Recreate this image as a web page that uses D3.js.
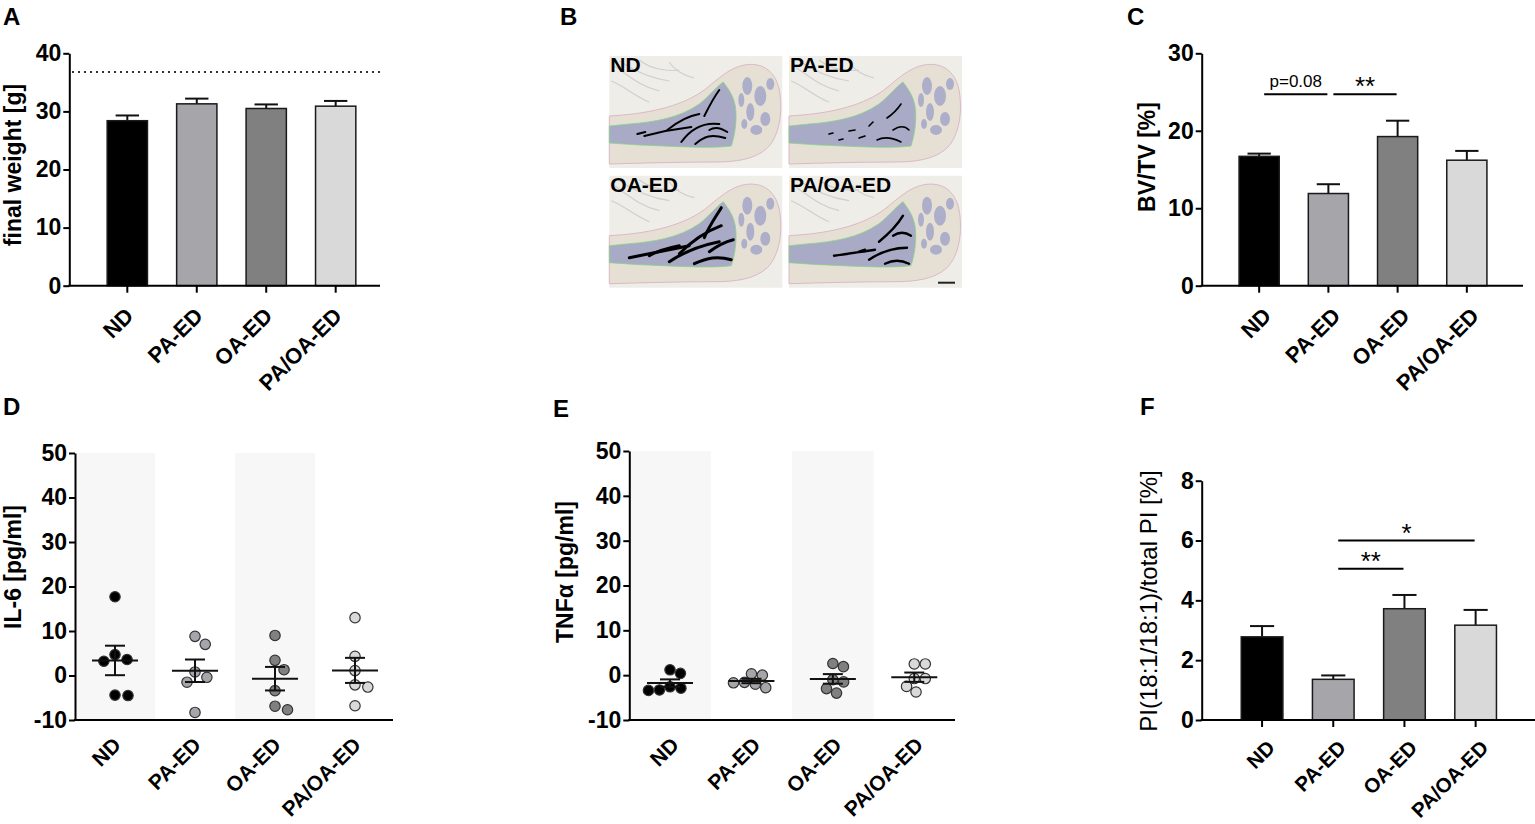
<!DOCTYPE html>
<html>
<head>
<meta charset="utf-8">
<script src="https://cdn.jsdelivr.net/npm/d3@7"></script>
<style>
  body { margin: 0; background: #fff; }
  svg text { font-family: "Liberation Sans", Arial, Helvetica, sans-serif; fill: #000; }
</style>
</head>
<body>
<div id="fig"></div>
<script>
// Groups shared by every panel
const groups = ["ND", "PA-ED", "OA-ED", "PA/OA-ED"];
const groupFill = ["#000000", "#a5a5aa", "#808080", "#d9d9d9"];

// A: final body weight (mean, SEM) and reference (dotted line)
const weightMean = [28.4, 31.3, 30.5, 30.9];
const weightSem = [0.9, 0.9, 0.7, 0.9];
const weightRef = 36.8;
const weightTicks = [0, 10, 20, 30, 40];

// C: BV/TV
const bvtvMean = [16.7, 11.9, 19.25, 16.2];
const bvtvSem = [0.35, 1.2, 2.05, 1.2];
const bvtvTicks = [0, 10, 20, 30];
const bvtvSig = [
  { from: "ND", to: "PA-ED", value: 24.7, text: "p=0.08" },
  { from: "PA-ED", to: "OA-ED", value: 24.7, text: "**" }
];

// F: PI(18:1/18:1) share
const piMean = [2.78, 1.36, 3.72, 3.17];
const piSem = [0.36, 0.13, 0.46, 0.51];
const piTicks = [0, 2, 4, 6, 8];
const piSig = [
  { from: "PA-ED", to: "OA-ED", value: 5.06, text: "**" },
  { from: "PA-ED", to: "PA/OA-ED", value: 6.0, text: "*" }
];

// D: IL-6 per animal
const il6 = [
  [17.7, 3.6, 3.2, 4.7, -4.5, -4.4],
  [7.0, 8.8, -0.4, -1.5, 0.8, -8.3],
  [9.0, 3.4, 1.3, -3.4, -7.7, -6.9],
  [13.0, 4.3, 1.1, -2.1, -2.6, -6.8]
];
// E: TNFa per animal
const tnf = [
  [1.2, 0.4, -2.6, -3.3, -3.4, -2.9],
  [0.0, 0.3, -1.6, -2.8, -2.0, -1.7],
  [2.6, 1.9, -1.5, -1.0, -4.0, -3.0],
  [2.5, 2.5, -0.75, -0.75, -3.75, -2.5]
];
const cytoTicks = [-10, 0, 10, 20, 30, 40, 50];

const svg = d3.create("svg").attr("width", 1535).attr("height", 824);

function panelLetter(t, x, y) {
  svg.append("text").attr("x", x).attr("y", y)
    .attr("font-size", 24).attr("font-weight", "bold").text(t);
}

function axes(p, x, y) {
  // y axis
  svg.append("g")
    .attr("transform", `translate(${p.axisX},0)`)
    .call(d3.axisLeft(y).tickValues(p.ticks).tickSize(6).tickPadding(2)
      .tickSizeOuter(0).tickFormat(d => String(d)))
    .call(g => {
      g.attr("font-size", 23).attr("font-family", null);
      g.select(".domain").attr("stroke", "#000").attr("stroke-width", 2);
      g.selectAll(".tick line").attr("stroke", "#000").attr("stroke-width", 2);
      g.selectAll(".tick text").attr("font-size", 23).attr("font-weight", "bold");
    });

  // x axis
  const y0 = y(p.domain[0]);
  if (p.xTicks) {
    svg.append("g")
      .attr("transform", `translate(0,${y0})`)
      .call(d3.axisBottom(x).tickSize(7).tickFormat(""))
      .call(g => {
        g.select(".domain").remove();
        g.selectAll(".tick line").attr("stroke", "#000").attr("stroke-width", 2);
      });
  }
  svg.append("line")
    .attr("x1", p.axisX - 1).attr("x2", p.axisEnd)
    .attr("y1", y0).attr("y2", y0)
    .attr("stroke", "#000").attr("stroke-width", 2);

  // rotated category labels
  svg.append("g").selectAll("text")
    .data(groups)
    .join("text")
    .attr("transform", d => `translate(${x(d) + x.bandwidth() / 2 + p.catDx},${y0 + p.catDy}) rotate(-45)`)
    .attr("text-anchor", "end")
    .attr("dy", "0.35em")
    .attr("font-size", p.catSize || 22)
    .attr("font-weight", "bold")
    .text(d => d);

  // y label
  svg.append("text")
    .attr("transform", `translate(${p.labelX},${p.labelY}) rotate(-90)`)
    .attr("text-anchor", "middle")
    .attr("font-size", p.labelSize || 23)
    .attr("font-weight", p.labelWeight || "bold")
    .text(p.label);
}

function barPanel(p, means, sems, sig) {
  const x = d3.scaleBand().domain(groups).range(p.xRange).padding(p.pad);
  const y = d3.scaleLinear().domain(p.domain).range(p.yRange);
  const cx = d => x(d) + x.bandwidth() / 2;
  const capW = x.bandwidth() * 0.58;

  const bars = groups.map((g, i) => ({ g, m: means[i], s: sems[i], fill: groupFill[i] }));

  svg.append("g").selectAll("line")
    .data(bars)
    .join("line")
    .attr("x1", d => cx(d.g)).attr("x2", d => cx(d.g))
    .attr("y1", d => y(d.m)).attr("y2", d => y(d.m + d.s))
    .attr("stroke", "#111").attr("stroke-width", 2);
  svg.append("g").selectAll("line")
    .data(bars)
    .join("line")
    .attr("x1", d => cx(d.g) - capW / 2).attr("x2", d => cx(d.g) + capW / 2)
    .attr("y1", d => y(d.m + d.s)).attr("y2", d => y(d.m + d.s))
    .attr("stroke", "#111").attr("stroke-width", 2);

  svg.append("g").selectAll("rect")
    .data(bars)
    .join("rect")
    .attr("x", d => x(d.g))
    .attr("y", d => y(d.m))
    .attr("width", x.bandwidth())
    .attr("height", d => y(0) - y(d.m))
    .attr("fill", d => d.fill)
    .attr("stroke", "#1a1a1a")
    .attr("stroke-width", 1.5);

  if (sig) {
    const sg = svg.append("g");
    sg.selectAll("line")
      .data(sig)
      .join("line")
      .attr("x1", d => cx(d.from) + 5).attr("x2", d => cx(d.to) - 1)
      .attr("y1", d => y(d.value)).attr("y2", d => y(d.value))
      .attr("stroke", "#000").attr("stroke-width", 2);
    sg.selectAll("text")
      .data(sig)
      .join("text")
      .attr("x", d => (cx(d.from) + cx(d.to)) / 2 + 2)
      .attr("y", d => d.text.startsWith("*") ? y(d.value) + 1 : y(d.value) - 7.5)
      .attr("text-anchor", "middle")
      .attr("font-size", d => d.text.startsWith("*") ? 26 : 17)
      .text(d => d.text);
  }

  axes(p, x, y);
  return { x, y };
}

// simple beeswarm: each point goes to the smallest horizontal offset that does not collide
function swarm(values, y, dist) {
  const order = values.map((v, i) => ({ v, i, py: y(v) })).sort((a, b) => b.v - a.v);
  const placed = [];
  const out = new Array(values.length);
  for (const p of order) {
    const cands = [0];
    for (const q of placed) {
      const dy = Math.abs(p.py - q.py);
      if (dy < dist) {
        const dx = Math.sqrt(dist * dist - dy * dy) + 0.01;
        cands.push(q.dx + dx, q.dx - dx);
      }
    }
    cands.sort((a, b) => Math.abs(a) - Math.abs(b));
    p.dx = cands.find(c => placed.every(q => (c - q.dx) ** 2 + (p.py - q.py) ** 2 >= dist * dist - 0.05));
    placed.push(p);
    out[p.i] = p.dx;
  }
  return out;
}

function dotPanel(p, data) {
  const x = d3.scaleBand().domain(groups).range(p.xRange);
  const y = d3.scaleLinear().domain(p.domain).range(p.yRange);
  const cx = d => x(d) + x.bandwidth() / 2;

  // alternating shaded columns
  svg.append("g").selectAll("rect")
    .data(groups.filter((g, i) => i % 2 === 0))
    .join("rect")
    .attr("x", d => x(d))
    .attr("y", y(p.domain[1]))
    .attr("width", x.bandwidth())
    .attr("height", y(p.domain[0]) - y(p.domain[1]))
    .attr("fill", "#f7f7f7");

  const pts = [];
  const stats = [];
  data.forEach((vals, gi) => {
    const offs = swarm(vals, y, p.swarmDist);
    vals.forEach((v, j) => pts.push({ g: groups[gi], v, dx: offs[j], fill: groupFill[gi] }));
    const m = d3.mean(vals);
    const s = d3.deviation(vals) / Math.sqrt(vals.length);
    stats.push({ g: groups[gi], m, s });
  });

  svg.append("g").selectAll("circle")
    .data(pts)
    .join("circle")
    .attr("cx", d => cx(d.g) + d.dx)
    .attr("cy", d => y(d.v))
    .attr("r", 5.2)
    .attr("fill", d => d.fill)
    .attr("stroke", "#333")
    .attr("stroke-width", 1.2);

  const st = svg.append("g").attr("stroke", "#111").attr("stroke-width", 2);
  st.selectAll(".mean")
    .data(stats)
    .join("line")
    .attr("class", "mean")
    .attr("x1", d => cx(d.g) - 23).attr("x2", d => cx(d.g) + 23)
    .attr("y1", d => y(d.m)).attr("y2", d => y(d.m));
  st.selectAll(".sem")
    .data(stats)
    .join("line")
    .attr("class", "sem")
    .attr("x1", d => cx(d.g)).attr("x2", d => cx(d.g))
    .attr("y1", d => y(d.m - d.s)).attr("y2", d => y(d.m + d.s));
  st.selectAll(".cap")
    .data(stats.flatMap(d => [{ g: d.g, v: d.m + d.s }, { g: d.g, v: d.m - d.s }]))
    .join("line")
    .attr("class", "cap")
    .attr("x1", d => cx(d.g) - 10).attr("x2", d => cx(d.g) + 10)
    .attr("y1", d => y(d.v)).attr("y2", d => y(d.v));

  axes(p, x, y);
}

// ---- Panel A
panelLetter("A", 3, 25);
const a = barPanel({
  xRange: [78, 385], pad: 0.42, domain: [0, 40], yRange: [285.7, 53.3], ticks: weightTicks,
  axisX: 69.3, axisEnd: 380, xTicks: true, catDx: 2, catDy: 26,
  label: "final weight [g]", labelX: 21, labelY: 165
}, weightMean, weightSem);
svg.append("line")
  .attr("x1", 72).attr("x2", 380)
  .attr("y1", a.y(weightRef)).attr("y2", a.y(weightRef))
  .attr("stroke", "#333").attr("stroke-width", 2).attr("stroke-dasharray", "2,4");

// ---- Panel C
panelLetter("C", 1127, 25);
barPanel({
  xRange: [1210, 1516], pad: 0.42, domain: [0, 30], yRange: [285.7, 53.3], ticks: bvtvTicks,
  axisX: 1201.7, axisEnd: 1523, xTicks: true, catDx: 8, catDy: 26,
  label: "BV/TV [%]", labelX: 1155, labelY: 157
}, bvtvMean, bvtvSem, bvtvSig);

// ---- Panel F
panelLetter("F", 1140, 415);
barPanel({
  xRange: [1211.7, 1526], pad: 0.415, domain: [0, 8], yRange: [720, 480.7], ticks: piTicks,
  axisX: 1201.7, axisEnd: 1535, xTicks: true, catDx: 9, catDy: 24, catSize: 20.5,
  label: "PI(18:1/18:1)/total PI [%]", labelX: 1157, labelY: 601, labelSize: 24, labelWeight: "normal"
}, piMean, piSem, piSig);

// ---- Panel D
panelLetter("D", 3, 415);
dotPanel({
  xRange: [75, 395], domain: [-10, 50], yRange: [720, 453], ticks: cytoTicks,
  axisX: 75, axisEnd: 393, xTicks: false, catDx: 2, catDy: 21, catSize: 21, swarmDist: 13,
  label: "IL-6 [pg/ml]", labelX: 21, labelY: 567
}, il6);

// ---- Panel E
panelLetter("E", 553, 417);
dotPanel({
  xRange: [629.3, 955], domain: [-10, 50], yRange: [720, 451], ticks: cytoTicks,
  axisX: 629.3, axisEnd: 955, xTicks: false, catDx: 5, catDy: 21, catSize: 21, swarmDist: 11,
  label: "TNFα [pg/ml]", labelX: 573, labelY: 572
}, tnf);

// ---- Panel B: schematic of the four histology sections
panelLetter("B", 560, 25);
const tileW = 173, tileH = 112;
const tileX = [609.3, 789], tileY = [56, 175.7];
const bonePath = "M0,60 C35,58 70,52 95,34 C110,22 120,12 135,9 C152,6 166,14 170,34 C174,56 170,80 158,92 C145,104 125,106 105,106 C70,106 35,107 0,108 Z";
const trabPath = "M0,70 L20,68 C45,66 70,62 90,48 C100,40 108,30 114,26 C120,34 124,40 126,50 C128,62 126,78 122,90 C100,93 60,90 30,89 L0,87 Z";
const blobs = [[138, 30, 5, 9], [151, 40, 6, 10], [141, 56, 4, 9], [156, 63, 5, 7], [147, 74, 6, 5], [132, 44, 3, 7], [161, 28, 4, 6], [135, 68, 3, 5]];
const muscle = ["M5,10 C20,20 30,30 50,35", "M10,5 C25,15 40,22 60,25", "M2,25 C15,30 25,40 40,46", "M30,4 C40,12 55,16 70,14", "M60,6 C65,14 75,20 85,22"];
const cracks = [
  { w: 2, d: ["M35,80 C50,76 65,73 82,71", "M72,86 C82,72 94,66 110,68", "M58,74 C68,66 78,60 90,58", "M95,60 C100,50 104,42 110,34", "M86,88 C95,80 102,78 116,82", "M28,78 L36,76", "M100,74 C106,70 112,72 118,76"] },
  { w: 1.6, d: ["M40,78 L44,77", "M60,75 L66,74", "M80,70 L84,66", "M98,62 C104,58 108,54 112,48", "M88,84 C96,80 104,82 112,86", "M104,74 C110,70 116,70 120,74", "M70,82 L76,80", "M50,84 L54,83"] },
  { w: 3, d: ["M20,82 C40,78 60,74 80,70", "M60,86 C75,76 90,70 110,66", "M70,78 C82,66 96,56 112,50", "M95,62 C100,50 106,42 112,32", "M85,88 C98,82 108,80 122,84", "M40,80 C50,74 60,72 70,70", "M100,76 C108,70 116,66 124,64"] },
  { w: 2.4, d: ["M45,80 C60,78 72,76 86,74", "M80,84 C92,76 104,72 118,72", "M90,66 C100,58 108,50 114,40", "M96,88 C104,84 112,84 120,88", "M70,76 L76,74", "M104,60 C110,56 116,56 122,60"] }
];

groups.forEach((g, i) => {
  const tx = tileX[i % 2], ty = tileY[Math.floor(i / 2)];
  const t = svg.append("g").attr("transform", `translate(${tx},${ty})`);
  t.append("rect").attr("width", tileW).attr("height", tileH).attr("fill", "#eeede8");
  t.append("g").selectAll("path").data(muscle).join("path")
    .attr("d", d => d).attr("fill", "none").attr("stroke", "#cfcfd2").attr("stroke-width", 1.2);
  t.append("path").attr("d", bonePath).attr("fill", "#e6e0d4").attr("stroke", "#dcb8c6").attr("stroke-width", 1);
  t.append("path").attr("d", trabPath).attr("fill", "#a8aac6").attr("stroke", "#86d686").attr("stroke-width", 0.8);
  t.append("g").selectAll("ellipse").data(blobs).join("ellipse")
    .attr("cx", d => d[0]).attr("cy", d => d[1]).attr("rx", d => d[2]).attr("ry", d => d[3])
    .attr("fill", "#adafca");
  t.append("g").selectAll("path").data(cracks[i].d).join("path")
    .attr("d", d => d).attr("fill", "none").attr("stroke", "#000")
    .attr("stroke-width", cracks[i].w).attr("stroke-linecap", "round");
  t.append("text").attr("x", 1).attr("y", 16)
    .attr("font-size", 21).attr("font-weight", "bold").text(g);
});
// scale bar
svg.append("line").attr("x1", 938).attr("x2", 955).attr("y1", 282.7).attr("y2", 282.7)
  .attr("stroke", "#222").attr("stroke-width", 2);

d3.select("#fig").append(() => svg.node());
</script>
</body>
</html>
